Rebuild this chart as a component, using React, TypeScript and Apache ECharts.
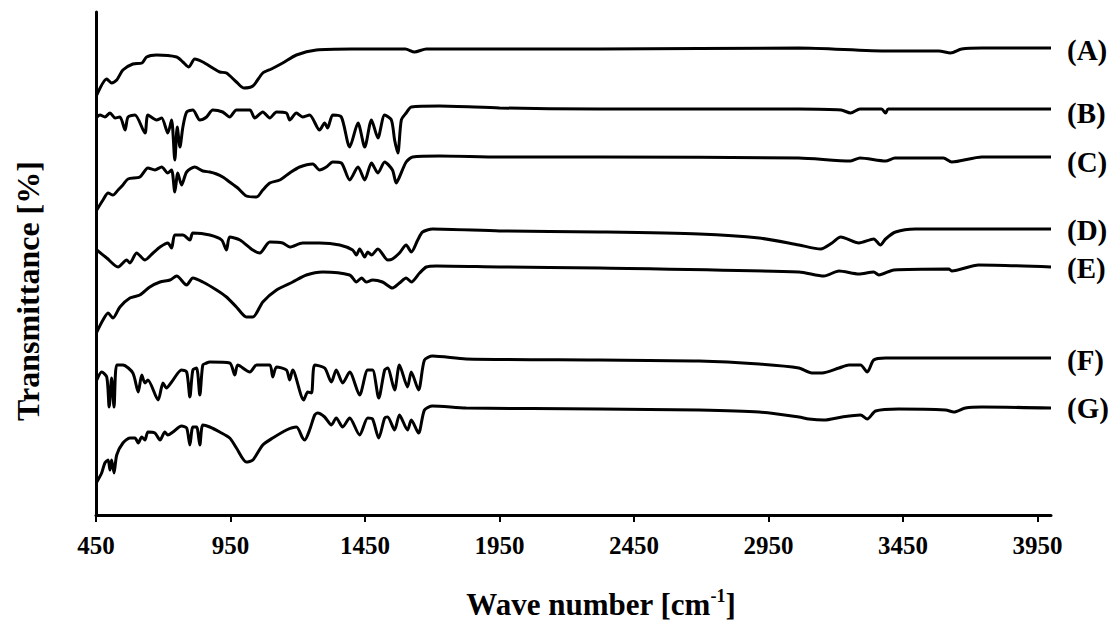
import React, { useEffect, useRef } from "react";
import * as echarts from "echarts";

// Wavenumber ticks (cm-1)
const xTicks = [450, 950, 1450, 1950, 2450, 2950, 3450, 3950];
const seriesLabels = ["(A)", "(B)", "(C)", "(D)", "(E)", "(F)", "(G)"];

// Stacked (offset) transmittance traces: [wavenumber, transmittance (offset units)]
const traceA: [number, number][] = [
  [453, 420], [490, 436], [508, 432], [527, 435], [550, 445], [587, 451], [621, 452], [638, 458],
  [675, 460], [750, 458], [773, 453], [795, 448], [817, 456], [847, 453], [884, 447], [910, 443],
  [935, 442], [972, 433], [999, 427], [1033, 429], [1070, 442], [1102, 446], [1144, 452], [1195, 460],
  [1269, 465], [1400, 466], [1600, 466], [1634, 463], [1678, 466], [2321, 466], [3063, 467],
  [3397, 464], [3583, 464], [3627, 462], [3668, 466], [3743, 467], [4000, 467],
];
const traceB: [number, number][] = [
  [453, 398], [465, 400], [483, 398], [502, 402], [521, 397], [539, 398], [558, 385], [569, 398],
  [595, 400], [632, 382], [643, 400], [675, 395], [694, 397], [717, 382], [731, 395], [743, 355],
  [752, 388], [762, 368], [773, 388], [787, 403], [810, 405], [836, 395], [861, 398], [884, 405],
  [921, 403], [947, 398], [972, 405], [1022, 405], [1040, 397], [1070, 403], [1096, 397], [1121, 403],
  [1158, 402], [1170, 395], [1195, 402], [1218, 398], [1244, 400], [1281, 385], [1300, 392], [1311, 387],
  [1330, 400], [1362, 398], [1393, 368], [1424, 392], [1449, 368], [1474, 395], [1498, 377], [1523, 400],
  [1548, 395], [1560, 375], [1572, 362], [1585, 395], [1603, 402], [1622, 408], [1727, 409], [1950, 407],
  [2321, 406], [3063, 406], [3220, 405], [3255, 402], [3290, 406], [3370, 406], [3385, 402], [3395, 406],
  [4000, 406],
];
const traceC: [number, number][] = [
  [453, 305], [476, 315], [495, 322], [513, 320], [532, 325], [550, 330], [569, 336], [613, 338],
  [643, 347], [669, 345], [694, 348], [717, 342], [731, 345], [743, 323], [754, 342], [768, 330],
  [787, 343], [817, 348], [847, 344], [873, 343], [898, 341], [921, 338], [947, 333], [977, 327],
  [1009, 319], [1047, 318], [1070, 325], [1096, 332], [1133, 335], [1170, 342], [1207, 348], [1256, 351],
  [1281, 345], [1306, 348], [1330, 353], [1362, 352], [1393, 335], [1424, 348], [1449, 335], [1474, 352],
  [1498, 342], [1523, 353], [1552, 345], [1566, 332], [1578, 338], [1603, 353], [1627, 358], [1727, 359],
  [1950, 358], [2321, 358], [3063, 357], [3255, 354], [3290, 357], [3385, 354], [3420, 357], [3600, 357],
  [3631, 353], [3743, 358], [4000, 358],
];
const traceD: [number, number][] = [
  [453, 265], [490, 257], [532, 248], [564, 255], [576, 252], [601, 262], [632, 255], [662, 262],
  [688, 268], [717, 272], [731, 267], [743, 280], [773, 280], [799, 275], [810, 282], [873, 280],
  [917, 275], [935, 265], [947, 278], [985, 275], [1033, 265], [1059, 262], [1096, 273], [1144, 272],
  [1170, 268], [1218, 272], [1281, 272], [1356, 270], [1404, 265], [1418, 260], [1430, 266], [1449, 258],
  [1460, 263], [1474, 260], [1498, 266], [1535, 255], [1552, 256], [1578, 262], [1603, 270], [1622, 263],
  [1646, 275], [1664, 283], [1701, 286], [1950, 284], [2321, 283], [2692, 281], [2915, 277], [3063, 270],
  [3144, 266], [3186, 272], [3218, 278], [3286, 272], [3341, 276], [3366, 270], [3385, 276], [3422, 283],
  [3496, 286], [4000, 286],
];
const traceE: [number, number][] = [
  [453, 183], [476, 195], [495, 202], [513, 197], [539, 208], [576, 217], [613, 220], [650, 228],
  [688, 233], [725, 235], [750, 239], [787, 230], [810, 237], [847, 233], [898, 225], [935, 218],
  [972, 208], [1009, 198], [1033, 198], [1070, 213], [1121, 225], [1181, 233], [1232, 240], [1293, 243],
  [1393, 240], [1418, 233], [1437, 237], [1455, 233], [1478, 235], [1515, 233], [1552, 227], [1578, 232],
  [1603, 237], [1622, 233], [1653, 242], [1678, 248], [1715, 249], [1950, 248], [2321, 247], [3063, 243],
  [3156, 239], [3212, 244], [3286, 241], [3341, 243], [3360, 240], [3416, 245], [3620, 246], [3631, 244],
  [3731, 250], [4000, 248],
];
const traceF: [number, number][] = [
  [453, 135], [471, 143], [490, 138], [499, 108], [508, 137], [517, 108], [527, 150], [550, 150],
  [587, 142], [607, 123], [620, 140], [632, 132], [643, 135], [681, 115], [699, 132], [712, 127],
  [731, 133], [768, 145], [787, 143], [799, 118], [810, 145], [824, 147], [836, 120], [847, 150],
  [861, 152], [873, 153], [947, 152], [966, 140], [977, 150], [1022, 143], [1047, 150], [1096, 150],
  [1107, 138], [1121, 148], [1158, 145], [1170, 135], [1181, 145], [1222, 115], [1237, 123], [1251, 122],
  [1263, 150], [1300, 147], [1325, 133], [1343, 145], [1367, 132], [1393, 143], [1430, 120], [1460, 145],
  [1478, 145], [1501, 117], [1523, 145], [1534, 147], [1560, 125], [1578, 150], [1608, 128], [1622, 143],
  [1649, 125], [1671, 155], [1701, 159], [1826, 156], [2321, 155], [2692, 154], [2915, 151], [3063, 147],
  [3111, 142], [3149, 142], [3212, 147], [3249, 150], [3292, 150], [3317, 143], [3341, 155], [3385, 157],
  [4000, 157],
];
const traceG: [number, number][] = [
  [453, 33], [471, 42], [483, 52], [495, 55], [502, 45], [508, 55], [517, 42], [527, 60],
  [550, 72], [576, 77], [595, 77], [607, 72], [620, 78], [632, 75], [643, 83], [669, 82],
  [688, 75], [706, 83], [717, 80], [736, 83], [768, 89], [787, 87], [799, 70], [810, 88],
  [824, 88], [836, 70], [847, 90], [873, 88], [910, 83], [947, 77], [972, 67], [1009, 53],
  [1033, 55], [1070, 70], [1107, 77], [1158, 85], [1195, 88], [1218, 77], [1226, 75], [1244, 85],
  [1263, 100], [1274, 102], [1300, 98], [1325, 90], [1343, 97], [1367, 88], [1393, 97], [1430, 80],
  [1460, 97], [1478, 96], [1501, 77], [1523, 97], [1534, 98], [1560, 85], [1578, 100], [1608, 85],
  [1622, 95], [1649, 82], [1671, 105], [1701, 109], [1826, 107], [2321, 106], [2692, 105], [2915, 103],
  [3063, 98], [3100, 96], [3156, 95], [3223, 98], [3292, 100], [3317, 96], [3348, 104], [3434, 106],
  [3608, 105], [3639, 103], [3682, 107], [3743, 108], [4000, 107],
];

const traces = [traceA, traceB, traceC, traceD, traceE, traceF, traceG];
const labelShift = [2, 4, 5, 1, 1, 2, 0];

const FONT = "'Liberation Serif', 'Times New Roman', serif";

export default function App() {
  const ref = useRef<HTMLDivElement>(null);
  useEffect(() => {
    if (!ref.current) return;
    const chart = echarts.init(ref.current, null, { renderer: "svg" });
    chart.setOption({
      animation: false,
      backgroundColor: "#ffffff",
      grid: { left: 96, right: 64, top: 12, bottom: 107, containLabel: false },
      xAxis: {
        type: "value",
        min: 450,
        max: 4000,
        interval: 500,
        splitLine: { show: false },
        axisLine: { show: true, onZero: false, lineStyle: { color: "#000", width: 3 } },
        axisTick: { show: true, customValues: xTicks, length: 7, lineStyle: { color: "#000", width: 2 } },
        axisLabel: {
          customValues: xTicks,
          formatter: (v: number) => String(v),
          color: "#000",
          fontFamily: FONT,
          fontWeight: "bold",
          fontSize: 25,
          margin: 18,
        },
      },
      yAxis: {
        type: "value",
        min: 0,
        max: 503,
        splitLine: { show: false },
        axisLine: { show: true, onZero: false, lineStyle: { color: "#000", width: 3 } },
        axisTick: { show: false },
        axisLabel: { show: false },
      },
      graphic: [
        {
          type: "text",
          x: 601,
          y: 604,
          style: {
            text: "{a|Wave number [cm}{s|-1}{a|]}",
            align: "center",
            verticalAlign: "middle",
            rich: {
              a: { fontFamily: FONT, fontWeight: "bold", fontSize: 31, fill: "#000", lineHeight: 34 },
              s: { fontFamily: FONT, fontWeight: "bold", fontSize: 18, fill: "#000", verticalAlign: "top", lineHeight: 18 },
            },
          },
        },
        {
          type: "text",
          x: 28,
          y: 291,
          rotation: Math.PI / 2,
          style: {
            text: "Transmittance [%]",
            align: "center",
            verticalAlign: "middle",
            fontFamily: FONT,
            fontWeight: "bold",
            fontSize: 32,
            fill: "#000",
          },
        },
      ],
      series: traces.map((data, i) => ({
        type: "line",
        name: seriesLabels[i],
        data,
        showSymbol: false,
        smooth: 0.25,
        lineStyle: { color: "#000", width: 3 },
        endLabel: {
          show: true,
          formatter: seriesLabels[i],
          distance: 16,
          offset: [0, labelShift[i]],
          color: "#000",
          fontFamily: FONT,
          fontWeight: "bold",
          fontSize: 29,
        },
      })),
    });
    return () => chart.dispose();
  }, []);
  return (
    <div
      ref={ref}
      style={{ position: "fixed", left: 0, top: 0, width: 1115, height: 622, background: "#fff" }}
    />
  );
}
